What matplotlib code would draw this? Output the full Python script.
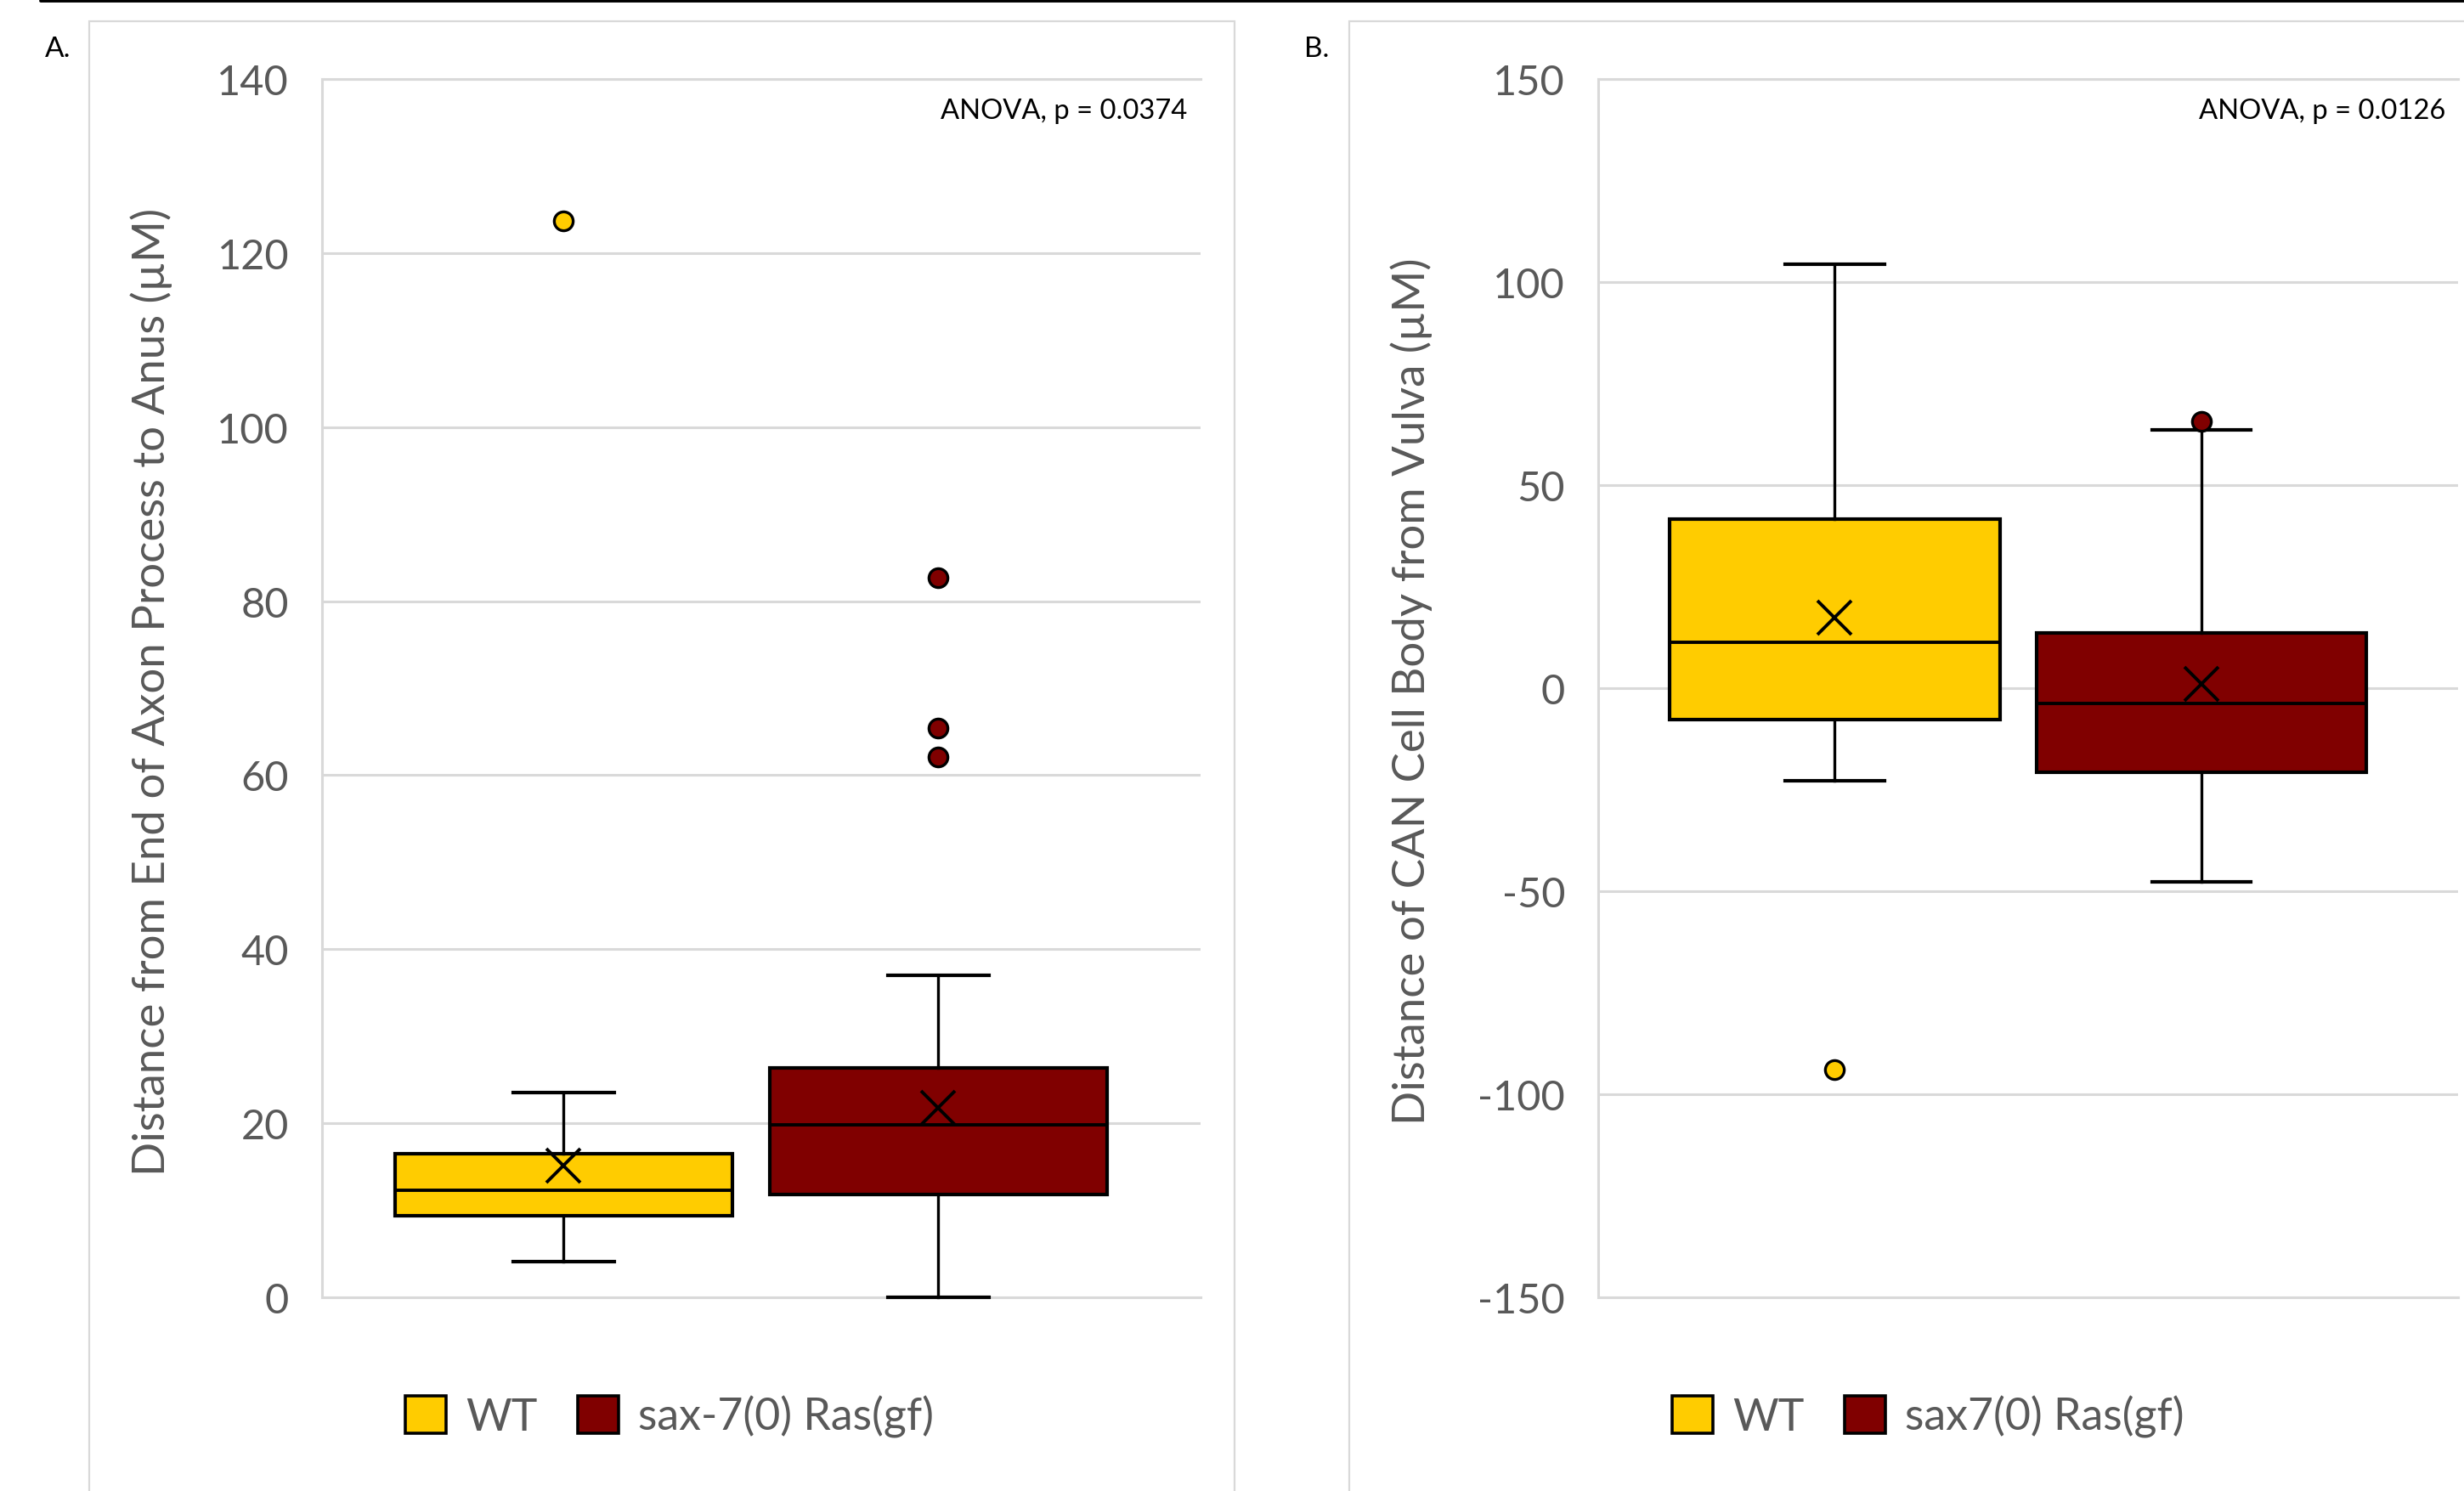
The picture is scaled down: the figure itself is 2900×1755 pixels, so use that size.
import numpy as np
import matplotlib.pyplot as plt
from matplotlib.patches import Patch, Rectangle
from matplotlib.lines import Line2D

plt.rcParams['font.family'] = ['Lato', 'DejaVu Sans']
plt.rcParams['axes.unicode_minus'] = False

groups_a = ['WT', 'sax-7(0) Ras(gf)']
groups_b = ['WT', 'sax7(0) Ras(gf)']
colors = ['#FFCC00', '#800000']

# panel A: distance from end of axon process to anus (uM)
a_q1 = [9.4, 11.8]
a_med = [12.3, 19.8]
a_q3 = [16.5, 26.4]
a_lo = [4.1, 0.0]
a_hi = [23.5, 37.0]
a_mean = [15.1, 21.8]
a_out = [[123.7], [82.7, 65.4, 62.1]]
a_ticks = [0, 20, 40, 60, 80, 100, 120, 140]
a_p = 'ANOVA, p = 0.0374'

# panel B: distance of CAN cell body from vulva (uM)
b_q1 = [-7.7, -20.7]
b_med = [11.2, -3.7]
b_q3 = [41.6, 13.6]
b_lo = [-22.7, -47.8]
b_hi = [104.3, 63.5]
b_mean = [17.4, 1.0]
b_out = [[-93.9], [65.6]]
b_ticks = [-150, -100, -50, 0, 50, 100, 150]
b_p = 'ANOVA, p = 0.0126'

grey = '#595959'
light = '#d9d9d9'


def draw(ax, q1, med, q3, lo, hi, mean, out, ticks, ptext):
    stats = []
    for i in range(len(q1)):
        stats.append(dict(q1=q1[i], med=med[i], q3=q3[i], whislo=lo[i],
                          whishi=hi[i], mean=mean[i], fliers=out[i]))
    res = ax.bxp(stats, positions=[1, 2], widths=0.9, capwidths=0.27,
                 patch_artist=True, showmeans=True,
                 boxprops=dict(edgecolor='black', linewidth=1.5),
                 medianprops=dict(color='black', linewidth=1.4),
                 whiskerprops=dict(color='black', linewidth=1.2),
                 capprops=dict(color='black', linewidth=1.5),
                 meanprops=dict(marker='x', markersize=14.5, markeredgecolor='black',
                                markeredgewidth=1.4),
                 flierprops=dict(marker='o', markersize=8, markeredgecolor='black',
                                 markeredgewidth=1.2))
    for b, c in zip(res['boxes'], colors):
        b.set_facecolor(c)
    for f, c in zip(res['fliers'], colors):
        f.set_markerfacecolor(c)
    for k in res:
        for art in res[k]:
            art.set_clip_on(False)
            art.set_zorder(3)
    ax.set_xlim(0.355, 2.70)
    ax.set_ylim(ticks[0], ticks[-1])
    ax.set_yticks(ticks)
    ax.set_xticks([])
    ax.tick_params(axis='y', length=0, pad=14, labelsize=17.5, labelcolor=grey)
    ax.grid(axis='y', color=light, linewidth=1.1)
    ax.set_axisbelow(True)
    for s in ['left', 'top', 'bottom']:
        ax.spines[s].set_color(light)
        ax.spines[s].set_linewidth(1.1)
        ax.spines[s].set_zorder(0.5)
    ax.spines['right'].set_visible(False)
    ax.text(0.985, 0.974, ptext, transform=ax.transAxes, ha='right', va='center',
            fontsize=11.8, color='black')


fig = plt.figure(figsize=(14.5, 8.78), dpi=200)

# panel frames and top rule
fig.add_artist(Rectangle((105 / 2900, -0.05), (1453 - 105) / 2900, 0.05 + 1 - 26 / 1756,
                         transform=fig.transFigure, fill=False, ec=light, lw=0.8))
fig.add_artist(Rectangle((1588 / 2900, -0.05), 0.5, 0.05 + 1 - 26 / 1756,
                         transform=fig.transFigure, fill=False, ec=light, lw=0.8))
fig.add_artist(Line2D([48 / 2900, 1], [1 - 1.5 / 1756] * 2, transform=fig.transFigure,
                      color='black', lw=1.4, solid_capstyle='round'))

ax1 = fig.add_axes([379 / 2900, 1 - 1528 / 1756, (1413 - 379) / 2900, (1528 - 94) / 1756])
ax2 = fig.add_axes([1881 / 2900, 1 - 1528 / 1756, (2893 - 1881) / 2900, (1528 - 94) / 1756])

draw(ax1, a_q1, a_med, a_q3, a_lo, a_hi, a_mean, a_out, a_ticks, a_p)
draw(ax2, b_q1, b_med, b_q3, b_lo, b_hi, b_mean, b_out, b_ticks, b_p)

fig.text(178 / 2900, 1 - 814 / 1756, 'Distance from End of Axon Process to Anus (µM)',
         rotation=90, ha='center', va='center', fontsize=19, color=grey)
fig.text(1661 / 2900, 1 - 814 / 1756, 'Distance of CAN Cell Body from Vulva (µM)',
         rotation=90, ha='center', va='center', fontsize=19, color=grey)

fig.text(68 / 2900, 1 - 58 / 1756, 'A.', ha='center', va='center', fontsize=12)
fig.text(1550 / 2900, 1 - 58 / 1756, 'B.', ha='center', va='center', fontsize=12)

for ax, names, x0 in [(ax1, groups_a, 477), (ax2, groups_b, 1968)]:
    handles = [Patch(facecolor=c, edgecolor='black', linewidth=1.3) for c in colors]
    ax.legend(handles, names, loc='center left', bbox_to_anchor=(x0 / 2900, 1 - 1668 / 1756),
              bbox_transform=fig.transFigure, ncol=2, frameon=False, borderpad=0,
              borderaxespad=0, handlelength=0.93, handleheight=0.93, handletextpad=0.45,
              columnspacing=0.9, fontsize=18.7, labelcolor=grey)

fig.savefig('out.png', dpi=200)
